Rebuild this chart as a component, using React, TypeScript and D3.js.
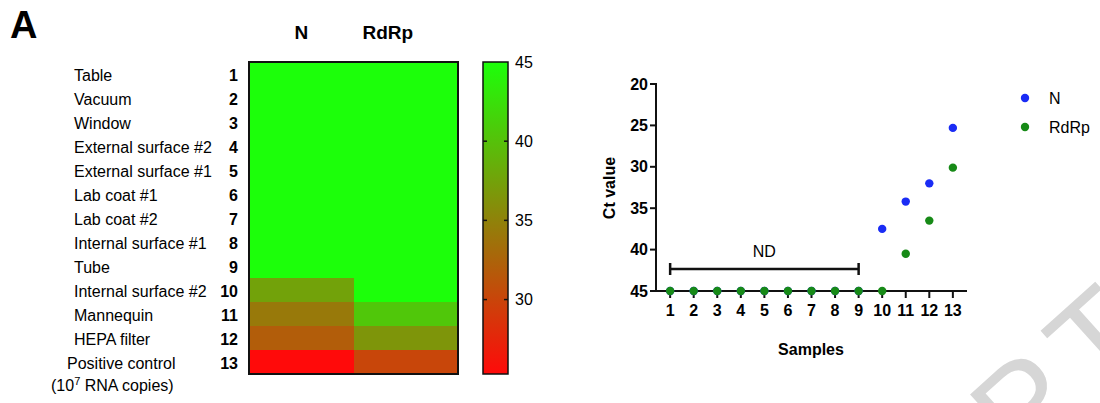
import React from 'react';
import * as d3 from 'd3';

// sample numbers, sample names and Ct values per gene
const samples = [1, 2, 3, 4, 5, 6, 7, 8, 9, 10, 11, 12, 13];
const locations = [
  'Table', 'Vacuum', 'Window', 'External surface #2', 'External surface #1',
  'Lab coat #1', 'Lab coat #2', 'Internal surface #1', 'Tube',
  'Internal surface #2', 'Mannequin', 'HEPA filter', 'Positive control',
];
const genes = ['N', 'RdRp'];
const ctN = [45, 45, 45, 45, 45, 45, 45, 45, 45, 37.5, 34.2, 32.0, 25.3];
const ctRdRp = [45, 45, 45, 45, 45, 45, 45, 45, 45, 45, 40.5, 36.5, 30.1];
const colorTicks = [45, 40, 35, 30];
const ctTicks = [20, 25, 30, 35, 40, 45];

const FONT = '"Liberation Sans", Arial, Helvetica, sans-serif';
const BLUE = '#1a2cf5';
const GREEN = '#178a17';

const App = () => {
  // heatmap
  const xCell = d3.scaleBand<string>().domain(genes).range([249, 458]);
  const yCell = d3.scaleBand<number>().domain(samples).range([62, 374]);
  const ctMin = d3.min(ctN.concat(ctRdRp)) as number;
  const color = d3.scaleLinear<string>()
    .domain([ctMin, 45])
    .range(['#ff0a0a', '#1cff0a'])
    .interpolate(d3.interpolateRgb);
  const cbY = d3.scaleLinear().domain([ctMin, 45]).range([374, 62]);
  const byGene: Record<string, number[]> = { N: ctN, RdRp: ctRdRp };

  // scatter
  const x = d3.scaleLinear().domain([0.4, 13.6]).range([656, 967]);
  const y = d3.scaleLinear().domain([20, 45]).range([84, 291]);

  const headerShift: Record<string, number> = { N: 0, RdRp: -18 };

  return (
    <svg width={1100} height={403} style={{ position: 'absolute', left: 0, top: 0, fontFamily: FONT }}>
      <defs>
        <linearGradient id="cb" x1="0" y1="1" x2="0" y2="0">
          {d3.range(0, 1.0001, 0.1).map(t => (
            <stop key={t} offset={t} stopColor={color(ctMin + t * (45 - ctMin))} />
          ))}
        </linearGradient>
      </defs>

      {/* watermark, cut by the page edge as in the source */}
      <text transform="translate(1022,468) rotate(-42)" fontSize={130} letterSpacing={16} fill="#d6d6d6">PT</text>

      <text x={10} y={38} fontSize={38} fontWeight="bold">A</text>

      {/* heatmap */}
      {genes.map(g => (
        <text key={g} x={(xCell(g) as number) + xCell.bandwidth() / 2 + headerShift[g]} y={39}
          fontSize={19} fontWeight="bold" textAnchor="middle">{g}</text>
      ))}
      <g shapeRendering="crispEdges">
        {genes.map(g => samples.map((s, i) => (
          <rect key={g + s} x={xCell(g)} y={yCell(s)} width={xCell.bandwidth() + 0.5} height={yCell.bandwidth()}
            fill={color(byGene[g][i])} />
        )))}
      </g>
      <rect x={249} y={62} width={209} height={312} fill="none" stroke="#111" strokeWidth={2} />

      {samples.map((s, i) => {
        const cy = (yCell(s) as number) + yCell.bandwidth() / 2 + 1;
        return (
          <g key={s}>
            <text x={238} y={cy} dy="0.35em" fontSize={16} fontWeight="bold" textAnchor="end">{s}</text>
            {i < samples.length - 1 ? (
              <text x={74} y={cy} dy="0.35em" fontSize={16}>{locations[i]}</text>
            ) : (
              <g>
                <text x={67} y={cy} dy="0.35em" fontSize={16}>{locations[i]}</text>
                <text x={51} y={cy + 22} dy="0.35em" fontSize={16}>
                  (10<tspan dy="-6" fontSize={11}>7</tspan><tspan dy="6"> RNA copies)</tspan>
                </text>
              </g>
            )}
          </g>
        );
      })}

      {/* colour bar */}
      <rect x={483} y={62} width={25} height={312} fill="url(#cb)" stroke="#111" strokeWidth={1.5} />
      {colorTicks.map(t => (
        <g key={t}>
          {t !== 45 && <line x1={483} x2={487} y1={cbY(t)} y2={cbY(t)} stroke="#111" strokeWidth={1.5} />}
          {t !== 45 && <line x1={504} x2={508} y1={cbY(t)} y2={cbY(t)} stroke="#111" strokeWidth={1.5} />}
          <text x={515} y={cbY(t)} dy="0.35em" fontSize={16}>{t}</text>
        </g>
      ))}

      {/* scatter axes */}
      <line x1={656} x2={656} y1={83} y2={292} stroke="#111" strokeWidth={2} />
      <line x1={655} x2={967} y1={291} y2={291} stroke="#111" strokeWidth={2} />
      {ctTicks.map(t => (
        <g key={t}>
          <line x1={650} x2={656} y1={y(t)} y2={y(t)} stroke="#111" strokeWidth={2} />
          <text x={648} y={y(t)} dy="0.35em" fontSize={16} fontWeight="bold" textAnchor="end">{t}</text>
        </g>
      ))}
      {samples.map(s => (
        <g key={s}>
          <line x1={x(s)} x2={x(s)} y1={291} y2={298} stroke="#111" strokeWidth={2} />
          <text x={x(s)} y={310} dy="0.35em" fontSize={16} fontWeight="bold" textAnchor="middle">{s}</text>
        </g>
      ))}
      <text transform="translate(615,188) rotate(-90)" fontSize={16} fontWeight="bold" textAnchor="middle">Ct value</text>
      <text x={811} y={355} fontSize={16} fontWeight="bold" textAnchor="middle">Samples</text>

      {/* ND bracket */}
      <g stroke="#111" strokeWidth={2.5}>
        <line x1={x(1)} x2={x(9)} y1={269} y2={269} />
        <line x1={x(1)} x2={x(1)} y1={263} y2={275} />
        <line x1={x(9)} x2={x(9)} y1={263} y2={275} />
      </g>
      <text x={(x(1) + x(9)) / 2} y={257} fontSize={16} textAnchor="middle">ND</text>

      {samples.map((s, i) => (
        <circle key={'n' + s} cx={x(s)} cy={y(ctN[i])} r={4.2} fill={BLUE} />
      ))}
      {samples.map((s, i) => (
        <circle key={'r' + s} cx={x(s)} cy={y(ctRdRp[i])} r={4.2} fill={GREEN} />
      ))}

      {/* legend */}
      <circle cx={1025} cy={98} r={4.2} fill={BLUE} />
      <text x={1049} y={98} dy="0.35em" fontSize={16}>N</text>
      <circle cx={1025} cy={127} r={4.2} fill={GREEN} />
      <text x={1049} y={127} dy="0.35em" fontSize={16}>RdRp</text>
    </svg>
  );
};

export default App;
